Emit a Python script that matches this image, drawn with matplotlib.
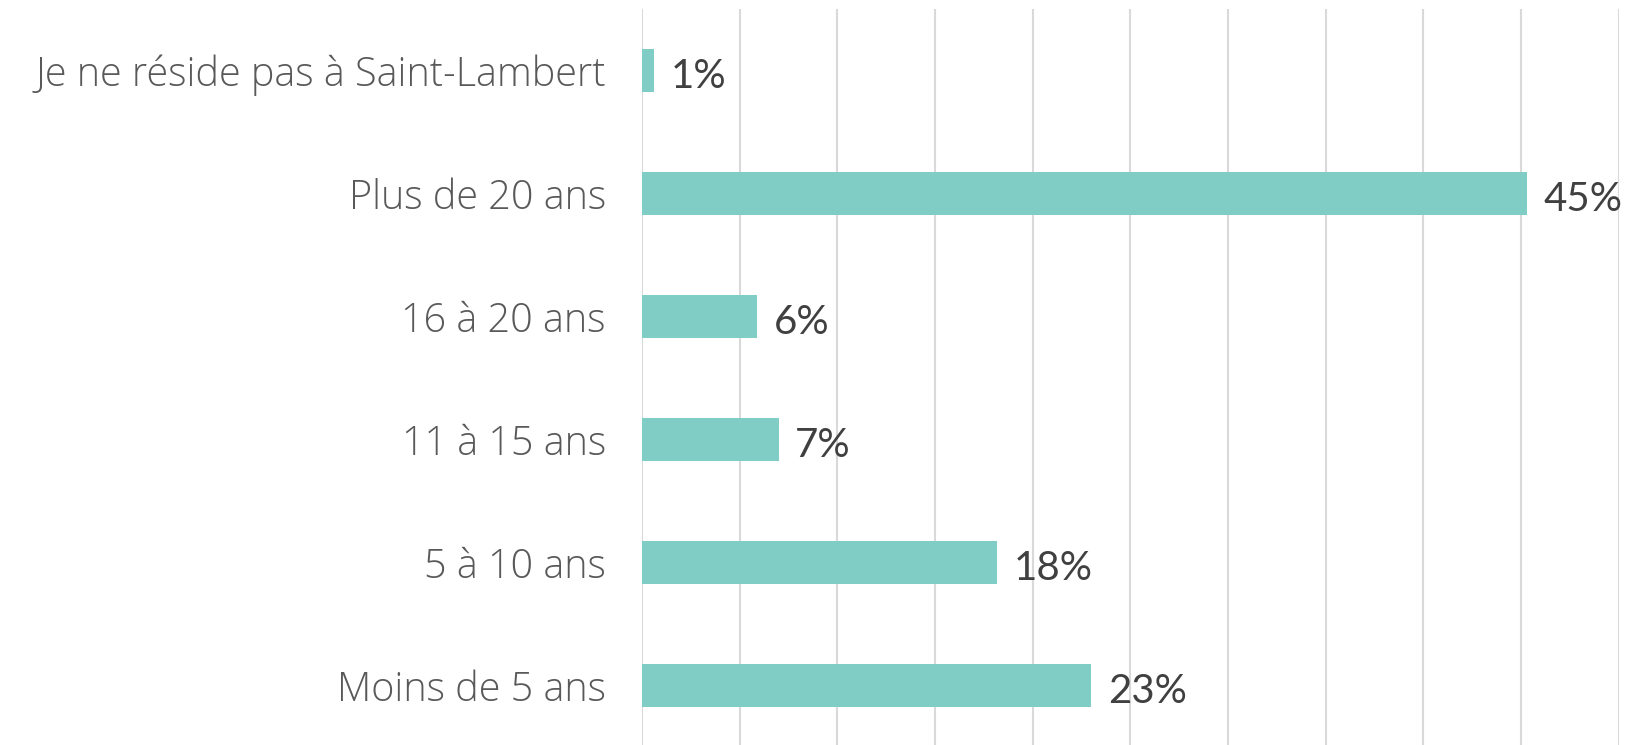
import matplotlib.pyplot as plt

categories = ["Je ne réside pas à Saint-Lambert", "Plus de 20 ans", "16 à 20 ans",
              "11 à 15 ans", "5 à 10 ans", "Moins de 5 ans"]
values = [0.6, 45.3, 5.9, 7.0, 18.2, 23.0]
labels = ["1%", "45%", "6%", "7%", "18%", "23%"]

plt.rcParams['font.family'] = ['Open Sans', 'DejaVu Sans']

fig = plt.figure(figsize=(16.48, 7.45), dpi=100)
ax = fig.add_axes([0.3896, -0.003, 0.5925, 0.991])

y = list(range(len(categories)))
ax.barh(y, values, height=0.35, color="#7fcdc4", zorder=3)

for yi, v, lab in zip(y, values, labels):
    ax.text(v + 0.85, yi + 0.05, lab, va="center", ha="left",
            fontsize=29, color="#404040", family=["Lato", "DejaVu Sans"], zorder=4)

ax.set_ylim(len(categories) - 0.5, -0.5)
ax.set_xlim(0, 50)
ax.set_xticks(range(0, 51, 5))
ax.set_xticklabels([])
ax.set_yticks(y)
ax.set_yticklabels(categories, fontsize=28.5, color="#595959", fontweight=300)
ax.tick_params(axis="y", length=0, pad=26)
ax.tick_params(axis="x", length=0)
ax.grid(axis="x", color="#d9d9d9", linewidth=1.5, zorder=0)
for s in ax.spines.values():
    s.set_visible(False)

fig.savefig("out.png", dpi=100)
